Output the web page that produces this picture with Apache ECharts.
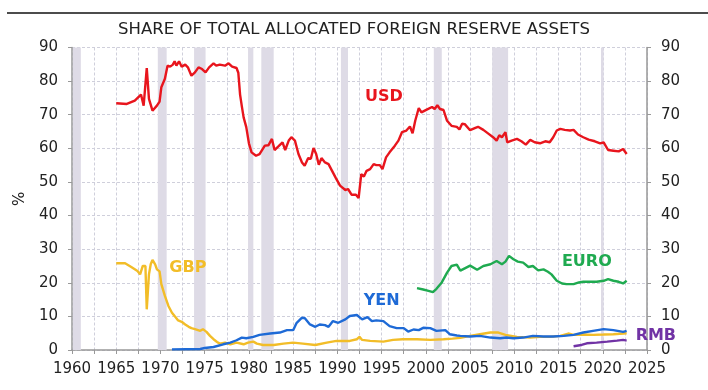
<!DOCTYPE html>
<html>
<head>
<meta charset="utf-8">
<script src="https://cdn.jsdelivr.net/npm/echarts@6/dist/echarts.min.js"></script>
<style>
html,body{margin:0;padding:0;background:#fff;}
#chart{width:708px;height:390px;}
</style>
</head>
<body>
<div id="chart"></div>
<script>
const titleText = "SHARE OF TOTAL ALLOCATED FOREIGN RESERVE ASSETS";
const recessions = [[1960.1,1961.0],[1969.7,1970.7],[1973.8,1975.1],[1979.9,1980.5],[1981.4,1982.8],[1990.4,1991.2],[2000.9,2001.8],[2007.5,2009.3],[2019.8,2020.1]];

const usd = [[1965.0,73.4],[1966.2,73.2],[1967.1,74.2],[1967.8,76.0],[1968.1,72.7],[1968.3,72.7],[1968.45,83.9],[1968.7,74.7],[1969.1,71.2],[1969.6,72.7],[1969.9,73.9],[1970.1,78.2],[1970.5,80.7],[1970.8,84.6],[1971.1,84.3],[1971.4,84.9],[1971.6,85.9],[1971.8,84.6],[1972.1,85.9],[1972.4,84.3],[1972.8,84.9],[1973.1,84.1],[1973.5,81.6],[1973.9,82.6],[1974.3,84.1],[1974.7,83.6],[1975.1,82.6],[1975.5,84.1],[1976.0,85.3],[1976.3,84.6],[1976.7,84.9],[1977.3,84.6],[1977.7,85.3],[1978.1,84.3],[1978.6,83.9],[1978.8,82.5],[1979.0,76.0],[1979.2,72.5],[1979.4,69.2],[1979.7,66.3],[1980.0,61.5],[1980.3,58.8],[1980.8,57.8],[1981.2,58.3],[1981.4,58.8],[1981.8,60.8],[1982.2,60.9],[1982.6,62.8],[1982.9,59.5],[1983.3,60.5],[1983.8,61.8],[1984.1,59.5],[1984.5,62.3],[1984.8,63.3],[1985.2,62.3],[1985.6,58.3],[1986.0,55.8],[1986.3,54.8],[1986.7,57.1],[1987.0,56.9],[1987.3,60.1],[1987.6,58.3],[1987.9,55.1],[1988.2,57.1],[1988.6,55.8],[1989.0,55.3],[1989.4,53.3],[1989.8,51.3],[1990.3,48.9],[1990.9,47.6],[1991.2,47.9],[1991.6,46.2],[1992.1,46.2],[1992.4,45.2],[1992.7,52.3],[1993.0,51.6],[1993.3,53.3],[1993.7,53.8],[1994.1,55.3],[1994.4,55.0],[1994.8,55.0],[1995.1,53.8],[1995.5,57.3],[1995.9,58.8],[1996.5,60.8],[1996.9,62.3],[1997.3,64.8],[1997.8,65.3],[1998.2,66.5],[1998.5,64.5],[1998.8,68.2],[1999.2,72.0],[1999.5,70.7],[2000.1,71.5],[2000.7,72.3],[2001.0,71.7],[2001.3,72.8],[2001.6,71.7],[2002.0,71.4],[2002.4,68.2],[2002.9,66.7],[2003.5,66.4],[2003.8,65.6],[2004.1,67.3],[2004.4,67.2],[2005.0,65.4],[2005.6,66.1],[2005.9,66.4],[2006.5,65.5],[2007.1,64.3],[2007.6,63.3],[2008.0,62.3],[2008.3,63.9],[2008.6,63.3],[2009.0,64.8],[2009.2,61.8],[2009.7,62.3],[2010.3,62.8],[2010.8,62.1],[2011.3,61.1],[2011.8,62.5],[2012.3,61.8],[2012.9,61.5],[2013.5,62.1],[2014.0,61.8],[2014.4,63.3],[2014.8,65.3],[2015.2,65.8],[2015.7,65.5],[2016.3,65.3],[2016.7,65.5],[2017.2,64.1],[2017.8,63.3],[2018.4,62.6],[2019.1,62.1],[2019.7,61.5],[2020.1,61.8],[2020.6,59.5],[2021.2,59.3],[2021.8,59.1],[2022.3,59.8],[2022.7,58.3]];

const gbp = [[1965.0,25.8],[1966.0,25.8],[1966.7,24.7],[1967.4,23.5],[1967.7,22.5],[1968.0,25.0],[1968.3,25.0],[1968.45,12.1],[1968.7,22.5],[1968.9,25.5],[1969.1,26.8],[1969.4,25.5],[1969.6,24.0],[1969.9,23.4],[1970.1,19.6],[1970.5,16.1],[1970.9,13.1],[1971.3,11.1],[1971.6,10.1],[1972.0,8.8],[1972.4,8.4],[1972.8,7.6],[1973.2,6.9],[1973.5,6.5],[1973.9,6.2],[1974.5,5.7],[1974.8,6.2],[1975.2,5.4],[1975.6,4.2],[1976.0,3.2],[1976.4,2.4],[1976.7,1.9],[1977.3,2.2],[1977.9,1.7],[1978.6,2.2],[1979.4,1.7],[1979.9,2.2],[1980.5,2.5],[1980.9,1.9],[1981.6,1.5],[1982.8,1.5],[1983.9,1.9],[1985.0,2.2],[1986.1,1.9],[1987.5,1.5],[1988.8,2.2],[1989.9,2.7],[1991.4,2.7],[1992.2,3.2],[1992.5,3.9],[1992.8,3.0],[1993.7,2.7],[1995.2,2.5],[1996.3,3.0],[1997.4,3.2],[1999.0,3.2],[2000.5,3.0],[2002.0,3.2],[2003.0,3.4],[2003.9,3.6],[2005.0,4.2],[2006.1,4.7],[2007.3,5.2],[2008.2,5.2],[2009.0,4.5],[2010.3,3.9],[2011.8,3.7],[2012.9,3.9],[2014.0,3.9],[2015.2,4.2],[2016.1,4.9],[2016.7,4.5],[2017.8,4.6],[2018.9,4.5],[2020.1,4.6],[2021.2,4.7],[2022.3,4.9],[2022.7,5.0]];

const yen = [[1971.3,0.2],[1974.5,0.3],[1975.0,0.6],[1976.0,0.9],[1977.1,1.7],[1977.9,2.2],[1978.6,2.9],[1979.2,3.7],[1979.7,3.5],[1980.5,3.9],[1981.2,4.5],[1982.4,4.9],[1983.5,5.2],[1984.3,5.9],[1985.0,5.9],[1985.4,8.1],[1986.0,9.6],[1986.3,9.5],[1986.9,7.6],[1987.5,6.9],[1988.0,7.6],[1988.6,7.4],[1989.0,6.9],[1989.5,8.6],[1990.1,8.1],[1990.9,9.1],[1991.4,10.1],[1992.2,10.4],[1992.8,9.1],[1993.4,9.8],[1993.9,8.6],[1994.4,8.8],[1995.2,8.6],[1995.9,7.1],[1996.7,6.5],[1997.5,6.5],[1998.0,5.5],[1998.6,6.1],[1999.2,5.9],[1999.7,6.6],[2000.5,6.5],[2001.2,5.7],[2002.2,5.9],[2002.7,4.7],[2003.5,4.3],[2003.9,4.2],[2005.0,4.0],[2006.1,4.2],[2007.3,3.7],[2008.4,3.5],[2009.1,3.7],[2009.9,3.5],[2011.0,3.7],[2012.1,4.2],[2013.3,4.0],[2014.4,4.0],[2015.6,4.2],[2016.7,4.5],[2017.8,5.2],[2018.9,5.7],[2020.1,6.2],[2021.2,5.9],[2022.3,5.4],[2022.7,5.7]];

const euro = [[1999.0,18.4],[1999.7,18.0],[2000.3,17.6],[2000.8,17.2],[2001.2,18.2],[2001.8,20.1],[2002.4,23.0],[2002.9,25.0],[2003.5,25.4],[2003.9,23.6],[2004.4,24.3],[2005.0,25.1],[2005.8,23.9],[2006.5,25.0],[2007.3,25.5],[2008.0,26.5],[2008.6,25.5],[2009.0,26.3],[2009.4,28.0],[2009.9,27.0],[2010.4,26.3],[2011.0,26.0],[2011.6,24.7],[2012.1,25.0],[2012.7,23.7],[2013.3,24.0],[2013.8,23.3],[2014.2,22.5],[2014.8,20.6],[2015.4,19.8],[2015.9,19.6],[2016.7,19.6],[2017.3,20.1],[2017.8,20.3],[2018.6,20.3],[2019.3,20.3],[2020.1,20.6],[2020.6,21.1],[2021.2,20.6],[2021.8,20.3],[2022.3,19.8],[2022.7,20.6]];

const rmb = [[2016.7,1.1],[2017.6,1.5],[2018.2,2.0],[2019.3,2.2],[2020.5,2.5],[2021.6,2.8],[2022.3,3.0],[2022.7,2.8]];

const labelNames = ["USD", "GBP", "YEN", "EURO", "RMB"];
const labelColors = ["#e8151d", "#f2bd28", "#1e6ad6", "#1faa50", "#7133a5"];
const labelAt = [[1995.25, 75.3], [1973.1, 24.4], [1995.0, 14.6], [2018.2, 26.2], [2026.0, 4.2]];

const FONT = "DejaVu Sans";
const chart = echarts.init(document.getElementById('chart'), null, {renderer:'canvas'});

function lineSeries(name, data, color){
  return { name: name, type:'line', data: data, symbol:'none', z:5,
    lineStyle:{color: color, width: 2.4}, animation:false };
}

const grid = {left:72, right:61, top:47.5, bottom:40};
const axisGray = '#999';
const gridStyle = {type:[3,2], color:'#cfcfdb', width:1};

chart.setOption({
  animation:false,
  title:{ text:titleText, left:'center', top:16, textStyle:{fontFamily:FONT, fontSize:16.5, fontWeight:'normal', color:'#222'} },
  grid: grid,
  xAxis:{
    type:'value', min:1960, max:2025, interval:2.5,
    axisLine:{show:true, onZero:false, lineStyle:{color:axisGray, width:1.5}},
    axisTick:{show:true, length:4, lineStyle:{color:axisGray}},
    axisLabel:{fontFamily:FONT, fontSize:15, color:'#222', margin:12,
      formatter: v => (Math.round(v*10) % 50 === 0 ? String(Math.round(v)) : '')},
    splitLine:{show:true, lineStyle:gridStyle}
  },
  yAxis:[
    {type:'value', min:0, max:90, interval:10, position:'left',
     name:'%', nameLocation:'middle', nameGap:33, nameRotate:90,
     nameTextStyle:{fontFamily:FONT, fontSize:15, color:'#222'},
     axisLine:{show:true, lineStyle:{color:axisGray, width:1.5}},
     axisTick:{show:true, length:4, lineStyle:{color:axisGray}},
     axisLabel:{fontFamily:FONT, fontSize:15, color:'#222', margin:14},
     splitLine:{show:true, lineStyle:gridStyle}},
    {type:'value', min:0, max:90, interval:10, position:'right',
     axisLine:{show:true, lineStyle:{color:axisGray, width:1.5}},
     axisTick:{show:true, length:4, lineStyle:{color:axisGray}},
     axisLabel:{fontFamily:FONT, fontSize:15, color:'#222', margin:14},
     splitLine:{show:false}}
  ],
  series: [
    { name:'rec', type:'line', data:[], symbol:'none', silent:true,
      markArea:{ silent:true, itemStyle:{color:'#dedbe6'},
        data: recessions.map(r => [{xAxis:r[0]},{xAxis:r[1]}]) } },
    lineSeries('GBP', gbp, labelColors[1]),
    lineSeries('YEN', yen, labelColors[2]),
    lineSeries('EURO', euro, labelColors[3]),
    lineSeries('RMB', rmb, labelColors[4]),
    lineSeries('USD', usd, labelColors[0])
  ]
});

const graphics = [{type:'line', shape:{x1:7, y1:13, x2:708, y2:13}, style:{stroke:'#111', lineWidth:1.5}}];
labelNames.forEach((n, i) => {
  const p = chart.convertToPixel({gridIndex:0}, labelAt[i]);
  graphics.push({type:'text', x:p[0], y:p[1], z:10,
    style:{text:n, fill:labelColors[i], font:'bold 16px "DejaVu Sans"', textAlign:'center', textVerticalAlign:'middle'}});
});
chart.setOption({graphic: graphics});
</script>
</body>
</html>
